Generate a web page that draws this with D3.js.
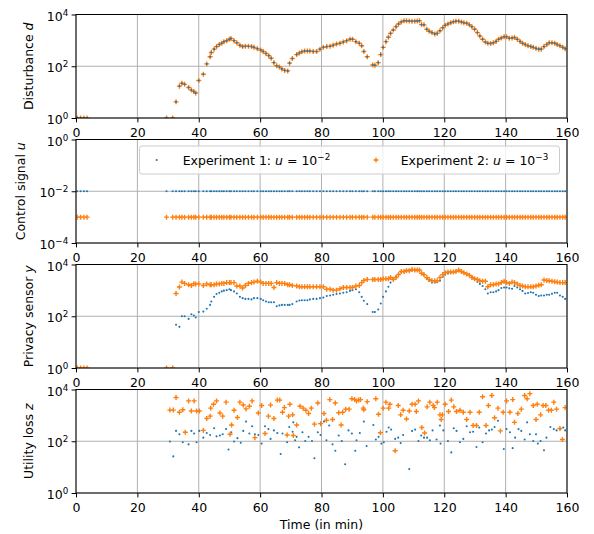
<!DOCTYPE html>
<html><head><meta charset="utf-8">
<script src="https://cdn.jsdelivr.net/npm/d3@7"></script>
<style>body{margin:0;background:#fff}svg{display:block}text{font-family:"DejaVu Sans",sans-serif}</style>
</head><body><svg id="c" width="594" height="534"></svg>
<script>
// ---------------- data ----------------
const time = [
 0.4, 1.5, 2.6, 3.6, 29.5, 31.5, 32.6, 33.7, 34.5, 35.4,
 36.7, 37.6, 38.4, 39.0, 40.0, 41.5, 42.6, 43.7, 44.1, 45.0,
 45.8, 46.7, 47.5, 48.2, 49.1, 50.0, 50.5, 51.5, 52.4, 53.4,
 54.3, 55.2, 56.2, 57.2, 58.0, 59.1, 60.2, 61.0, 61.9, 62.8,
 63.6, 64.5, 65.4, 66.3, 67.1, 68.0, 69.0, 69.6, 70.5, 71.9,
 72.8, 73.6, 74.5, 75.4, 76.2, 77.3, 78.4, 79.5, 80.6, 81.7,
 82.8, 83.8, 84.9, 86.0, 87.1, 88.2, 89.3, 90.1, 91.2, 92.3,
 93.1, 93.8, 94.9, 96.7, 97.4, 98.5, 99.3, 100.1, 101.0, 101.8,
 102.5, 103.4, 104.3, 105.1, 106.0, 106.9, 107.7, 108.6, 109.5, 110.4,
 111.2, 111.9, 112.6, 113.4, 114.3, 115.1, 116.0, 116.9, 117.7, 118.6,
 119.5, 120.3, 121.2, 122.1, 123.0, 123.8, 124.7, 125.6, 126.4, 127.3,
 128.2, 129.0, 129.9, 130.8, 131.6, 132.5, 133.4, 134.2, 135.1, 136.0,
 136.9, 137.7, 138.6, 139.5, 140.3, 141.2, 142.1, 142.9, 143.8, 144.7,
 145.5, 146.4, 147.3, 148.2, 149.0, 149.9, 150.8, 151.6, 152.5, 153.4,
 154.2, 155.1, 156.0, 156.8, 157.7, 158.6, 159.4];

const disturbance = [
 1, 1, 1, 1, 1, 1, 4.2, 17, 22, 20,
 15, 12, 10.5, 9.3, 28, 49, 123, 234, 339, 457,
 575, 692, 776, 891, 977, 1100, 1175, 977, 813, 646,
 575, 589, 589, 575, 537, 479, 427, 372, 309, 257,
 204, 138, 105, 93, 79, 69, 66, 132, 200, 282,
 324, 363, 389, 389, 389, 372, 372, 457, 537, 575,
 589, 646, 724, 776, 871, 977, 1100, 1100, 891, 776,
 617, 372, 234, 112, 110, 138, 282, 537, 891, 1320,
 1860, 2510, 3390, 4270, 5130, 5750, 5750, 5620, 5500, 5500,
 5620, 5750, 4070, 3980, 2690, 2240, 2000, 1780, 1860, 2340,
 3090, 3800, 4270, 4790, 5250, 5500, 5500, 5130, 4790, 4570,
 3980, 3390, 2690, 2000, 1480, 1100, 871, 776, 759, 813,
 912, 1100, 1230, 1380, 1380, 1200, 1230, 1290, 1100, 912,
 776, 692, 617, 575, 537, 490, 457, 457, 575, 692,
 813, 813, 776, 692, 617, 537, 479];

const controlLevels = [1e-2, 1e-3];   // experiment 1, experiment 2

const sensorExp1 = [
 1, 1, 1, 1, 1, 1, 47, 39, 100, 100,
 79, 120, 107, 89, 145, 151, 195, 275, 372, 562,
 724, 813, 912, 977, 1020, 1100, 1020, 912, 759, 562,
 501, 468, 468, 447, 501, 501, 468, 417, 372, 347,
 347, 347, 245, 263, 275, 275, 275, 275, 295, 372,
 407, 417, 417, 417, 447, 468, 468, 501, 525, 603,
 631, 676, 724, 759, 813, 851, 955, 1020, 1100, 851,
 562, 398, 295, 145, 145, 182, 309, 562, 912, 1380,
 2000, 2820, 3390, 4270, 5130, 5370, 6170, 6170, 6030, 5890,
 6030, 5890, 4570, 3980, 2820, 2290, 2000, 2000, 2090, 2340,
 3390, 4070, 4470, 4790, 5130, 5370, 5620, 5250, 4790, 4470,
 3800, 3310, 2630, 2140, 1780, 1480, 1100, 759, 851, 851,
 912, 1020, 1230, 1290, 1290, 1200, 1150, 1480, 1290, 1100,
 955, 759, 794, 851, 813, 676, 603, 631, 631, 676,
 676, 741, 813, 813, 631, 562, 468];

const sensorExp2 = [
 1, 1, 1, 1, 1, 1, 759, 1350, 2090, 1860,
 1660, 1550, 1820, 1780, 1780, 1550, 1780, 1660, 1660, 1660,
 1780, 1780, 1860, 1860, 2000, 2000, 2000, 2000, 1480, 1480,
 1230, 1550, 1860, 2000, 2090, 2240, 2090, 1860, 1860, 1860,
 1860, 1290, 2000, 1860, 1860, 1860, 1660, 1660, 1550, 1480,
 1380, 1380, 1380, 1380, 1380, 1380, 1380, 1380, 1380, 1100,
 1100, 1020, 1020, 1150, 1290, 1290, 1290, 1290, 1480, 1550,
 2000, 2400, 2630, 2630, 2630, 2630, 2630, 2820, 2820, 2820,
 3160, 2630, 3160, 4070, 5370, 5370, 5750, 5750, 6460, 6170,
 6170, 6170, 4570, 4070, 3160, 2630, 2340, 2340, 2340, 3160,
 4070, 4790, 5130, 5130, 5130, 5370, 6170, 5370, 4790, 4270,
 3800, 3160, 2820, 2630, 2340, 2240, 2240, 1380, 1660, 1660,
 1780, 1780, 2000, 2240, 2000, 1860, 2090, 2000, 1780, 1550,
 1480, 1380, 1380, 1380, 1380, 1480, 1580, 1660, 2510, 2400,
 2340, 2240, 2140, 2090, 2000, 2000, 2000];

const lossTime1 = [
 30.6, 31.7, 32.6, 33.7, 34.8, 36.7, 37.6, 38.5, 39.3, 40.2,
 41.5, 42.6, 43.7, 45.0, 45.8, 46.9, 47.8, 48.9, 49.7, 50.6,
 51.5, 52.6, 53.7, 54.5, 55.4, 56.5, 57.4, 58.3, 59.4, 60.5,
 61.6, 62.7, 63.4, 64.5, 65.6, 66.7, 67.3, 68.8, 69.5, 70.6,
 70.8, 71.4, 71.9, 72.7, 73.8, 74.7, 75.8, 76.9, 77.7, 78.8,
 79.7, 80.8, 81.6, 82.5, 83.6, 84.5, 85.6, 86.6, 87.7, 88.8,
 89.9, 91.0, 91.4, 92.5, 93.8, 94.7, 96.9, 97.7, 98.6, 99.5,
 100.3, 101.2, 101.9, 102.7, 104.0, 105.0, 105.8, 106.6, 108.6, 109.5,
 110.5, 111.6, 112.5, 113.4, 114.4, 115.3, 116.2, 117.5, 118.6, 118.8,
 119.7, 121.2, 122.3, 123.1, 124.0, 125.1, 126.2, 127.3, 128.4, 129.4,
 130.5, 131.4, 132.5, 133.6, 134.6, 135.5, 136.4, 137.5, 139.4, 140.3,
 141.4, 142.3, 143.1, 144.2, 145.1, 146.2, 147.0, 147.9, 149.0, 149.9,
 150.5, 151.4, 152.5, 153.3, 154.6, 155.7, 156.6, 157.7, 158.8, 159.4];
const lossExp1 = [
 98, 26, 251, 186, 91, 76, 251, 200, 91, 251,
 138, 209, 174, 316, 155, 166, 186, 295, 48, 224,
 98, 132, 87, 251, 575, 200, 380, 186, 174, 81,
 380, 295, 123, 263, 209, 32, 200, 91, 355, 234,
 537, 110, 148, 58, 224, 102, 148, 102, 22, 224,
 174, 575, 110, 407, 76, 43, 166, 102, 13, 263,
 200, 43, 110, 209, 575, 65, 427, 117, 148, 81,
 91, 234, 339, 282, 123, 138, 85, 174, 8.5, 251,
 282, 102, 166, 138, 138, 110, 263, 117, 407, 81,
 263, 102, 37, 316, 251, 91, 123, 380, 224, 234,
 60, 339, 91, 200, 263, 282, 355, 617, 50, 295,
 224, 54, 138, 295, 251, 117, 537, 186, 102, 186,
 81, 102, 45, 138, 355, 295, 263, 295, 339, 263];

const lossTime2 = [
 30.6, 31.7, 32.6, 33.7, 34.8, 35.6, 36.7, 37.6, 38.5, 39.3,
 40.2, 41.5, 42.6, 43.7, 43.9, 44.8, 45.8, 46.9, 47.8, 48.9,
 50.2, 50.7, 51.5, 52.6, 53.4, 54.5, 55.4, 56.5, 57.4, 58.3,
 59.4, 60.5, 61.6, 62.7, 63.4, 64.5, 65.6, 66.4, 67.3, 67.9,
 68.8, 69.3, 69.7, 70.6, 70.8, 71.9, 73.0, 74.0, 74.9, 75.8,
 76.7, 77.7, 78.8, 79.7, 80.8, 81.6, 82.7, 83.6, 84.5, 85.6,
 86.4, 86.9, 87.9, 89.0, 89.9, 90.8, 91.4, 92.1, 92.7, 93.6,
 93.8, 94.9, 97.7, 98.6, 99.2, 100.1, 101.0, 101.9, 102.3, 104.0,
 105.0, 105.8, 106.6, 107.7, 108.6, 109.5, 110.5, 110.9, 111.6, 112.7,
 113.6, 114.4, 115.3, 116.4, 116.8, 117.7, 118.6, 119.0, 119.4, 120.3,
 121.4, 122.3, 123.1, 124.0, 125.1, 126.2, 127.3, 128.4, 129.4, 130.5,
 131.4, 132.5, 133.6, 134.4, 135.5, 136.4, 137.5, 138.3, 139.2, 140.3,
 141.4, 142.3, 142.9, 144.0, 145.1, 146.2, 147.0, 147.9, 149.0, 149.9,
 150.3, 151.4, 152.2, 153.1, 154.0, 154.9, 155.7, 156.6, 157.7, 158.5,
 159.4];
const lossExp2 = [
 1600, 1600, 4900, 1320, 1660, 224, 3630, 1480, 3630, 1480,
 1480, 263, 759, 933, 1900, 2690, 3630, 1230, 933, 3240,
 186, 427, 1580, 832, 3240, 2510, 1780, 2240, 3630, 138,
 1230, 2400, 200, 933, 2500, 759, 3890, 3890, 1320, 2000,
 174, 933, 2690, 1050, 166, 427, 2240, 1900, 1580, 1175,
 1900, 457, 3020, 479, 1175, 646, 4070, 692, 3020, 1260,
 427, 1320, 1740, 1740, 4370, 4070, 3630, 3890, 4070, 1900,
 1660, 3390, 4370, 1100, 214, 1900, 3240, 1900, 2690, 43,
 2400, 1050, 1580, 724, 1480, 2690, 2690, 1410, 3630, 339,
 209, 2140, 3240, 2400, 2000, 3240, 1050, 692, 1050, 2690,
 1410, 3890, 2140, 1410, 1580, 1320, 692, 1320, 407, 407,
 1320, 5250, 407, 2400, 5890, 813, 1900, 251, 1320, 3630,
 1320, 4070, 537, 1175, 1740, 5890, 4370, 6920, 2400, 692,
 2690, 1050, 2400, 2400, 1580, 1580, 3240, 1740, 309, 117,
 2000];

const xTicks = [0, 20, 40, 60, 80, 100, 120, 140, 160];
const yTicksPos = [1, 1e2, 1e4];
const yTicksControl = [1e-4, 1e-2, 1];
const legendLabels = [["Experiment 1: ", "u", " = 10", "\u22122"], ["Experiment 2: ", "u", " = 10", "\u22123"]];

// ---------------- drawing ----------------
const W = 594, H = 534;
const BLUE = '#1f77b4', ORANGE = '#ff7f0e';
const FS = 12.5;
const L = 76, R = 567, PH = 103.5;
const tops = [14.5, 139.5, 264.5, 389.5];
const svg = d3.select('#c');
svg.append('rect').attr('width', W).attr('height', H).attr('fill', '#fff');
const x = d3.scaleLinear().domain([0, 160]).range([L, R]);

function supLabel(sel, v) {
  const e = Math.round(Math.log10(v));
  sel.text(null);
  sel.append('tspan').text('10');
  sel.append('tspan').attr('dy', -5).attr('font-size', FS * 0.7).text(e < 0 ? '\u2212' + (-e) : String(e));
}

function makePanel(i, domain, ticks, labelText, labelVar, labelX) {
  const top = tops[i], bottom = top + PH;
  const y = d3.scaleLog().domain(domain).range([bottom, top]);
  const g = svg.append('g');
  g.append('clipPath').attr('id', 'clip' + i).append('rect')
    .attr('x', L).attr('y', top).attr('width', R - L).attr('height', PH);
  g.append('g').selectAll('line').data(xTicks).join('line')
    .attr('x1', d => x(d)).attr('x2', d => x(d)).attr('y1', top).attr('y2', bottom)
    .attr('stroke', '#b0b0b0').attr('stroke-width', 1);
  g.append('g').selectAll('line').data(ticks).join('line')
    .attr('x1', L).attr('x2', R).attr('y1', d => y(d)).attr('y2', d => y(d))
    .attr('stroke', '#b0b0b0').attr('stroke-width', 1);
  const plot = g.append('g').attr('clip-path', `url(#clip${i})`);
  const over = svg.append('g');
  over.append('rect').attr('x', L).attr('y', top).attr('width', R - L).attr('height', PH)
    .attr('fill', 'none').attr('stroke', '#000').attr('stroke-width', 1);
  const xa = over.append('g').attr('transform', `translate(0,${bottom})`)
    .call(d3.axisBottom(x).tickValues(xTicks).tickSize(4.4).tickSizeOuter(0).tickPadding(5.6).tickFormat(d3.format('d')));
  xa.select('.domain').remove();
  xa.selectAll('line').attr('stroke', '#000').attr('stroke-width', 1);
  xa.selectAll('text').attr('font-family', '"DejaVu Sans"').attr('font-size', FS).attr('fill', '#000');
  const ya = over.append('g').attr('transform', `translate(${L},0)`)
    .call(d3.axisLeft(y).tickValues(ticks).tickSize(4.4).tickSizeOuter(0).tickPadding(3.4));
  ya.select('.domain').remove();
  ya.selectAll('line').attr('stroke', '#000').attr('stroke-width', 1);
  ya.selectAll('text').attr('font-family', '"DejaVu Sans"').attr('font-size', FS).attr('fill', '#000')
    .attr('dy', '0.45em').each(function (d) { supLabel(d3.select(this), d); });
  const t = over.append('text').attr('transform', `translate(${labelX},${(top + bottom) / 2}) rotate(-90)`)
    .attr('text-anchor', 'middle').attr('font-size', FS).attr('fill', '#000');
  t.append('tspan').text(labelText);
  t.append('tspan').attr('font-style', 'italic').text(labelVar);
  return { y, plot, over };
}

const plusPath = 'M-2.5,0H2.5M0,-2.5V2.5';
function dots(plot, xs, ys, y) {
  plot.append('g').selectAll('circle').data(xs.map((t, k) => [t, ys[k]])).join('circle')
    .attr('cx', d => x(d[0])).attr('cy', d => y(d[1])).attr('r', 1.05).attr('fill', BLUE);
}
function pluses(plot, xs, ys, y) {
  plot.append('g').selectAll('path').data(xs.map((t, k) => [t, ys[k]])).join('path')
    .attr('transform', d => `translate(${x(d[0])},${y(d[1])})`).attr('d', plusPath)
    .attr('stroke', ORANGE).attr('stroke-width', 1.4).attr('fill', 'none');
}

const p1 = makePanel(0, [1, 1e4], yTicksPos, 'Disturbance ', 'd', 33);
pluses(p1.plot, time, disturbance, p1.y);
dots(p1.plot, time, disturbance, p1.y);

const p2 = makePanel(1, [1e-4, 1], yTicksControl, 'Control signal ', 'u', 25);
dots(p2.plot, time, time.map(() => controlLevels[0]), p2.y);
pluses(p2.plot, time, time.map(() => controlLevels[1]), p2.y);

const p3 = makePanel(2, [1, 1e4], yTicksPos, 'Privacy sensor ', 'y', 33);
dots(p3.plot, time, sensorExp1, p3.y);
pluses(p3.plot, time, sensorExp2, p3.y);

const p4 = makePanel(3, [1, 1e4], yTicksPos, 'Utility loss ', 'z', 33);
dots(p4.plot, lossTime1, lossExp1, p4.y);
pluses(p4.plot, lossTime2, lossExp2, p4.y);

svg.append('text').attr('x', (L + R) / 2).attr('y', 529).attr('text-anchor', 'middle')
  .attr('font-size', FS).attr('fill', '#000').text('Time (in min)');

const lg = svg.append('g');
lg.append('rect').attr('x', 139.5).attr('y', 146).attr('width', 420).attr('height', 28)
  .attr('rx', 2.5).attr('fill', '#fff').attr('fill-opacity', 0.8).attr('stroke', '#cccccc').attr('stroke-width', 1);
const legendItems = [
  { mx: 156.7, tx: 182.7, color: BLUE, kind: 'dot', parts: legendLabels[0] },
  { mx: 376, tx: 400.7, color: ORANGE, kind: 'plus', parts: legendLabels[1] }];
legendItems.forEach(it => {
  if (it.kind === 'dot') lg.append('circle').attr('cx', it.mx).attr('cy', 160).attr('r', 1.05).attr('fill', it.color);
  else lg.append('path').attr('transform', `translate(${it.mx},160)`).attr('d', plusPath)
    .attr('stroke', it.color).attr('stroke-width', 1.4).attr('fill', 'none');
  const t = lg.append('text').attr('x', it.tx).attr('y', 164.5).attr('font-size', FS).attr('fill', '#000');
  t.append('tspan').text(it.parts[0]);
  t.append('tspan').attr('font-style', 'italic').text(it.parts[1]);
  t.append('tspan').text(it.parts[2]);
  t.append('tspan').attr('dy', -5).attr('font-size', FS * 0.7).text(it.parts[3]);
});
</script></body></html>
